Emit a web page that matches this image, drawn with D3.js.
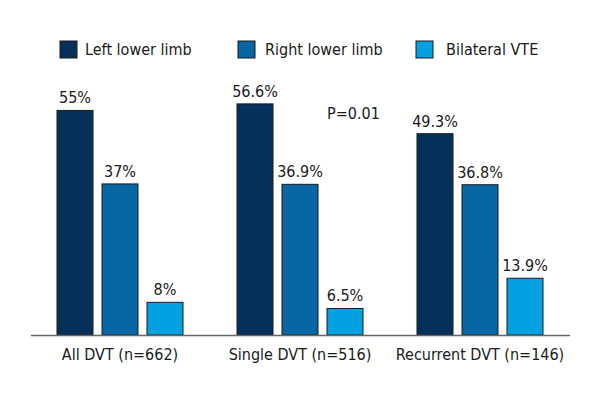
<!DOCTYPE html>
<html>
<head>
<meta charset="utf-8">
<script src="https://cdn.jsdelivr.net/npm/d3@7"></script>
<style>
  html, body { margin: 0; padding: 0; background: #fff; }
  svg { display: block; }
  text { font-family: "Liberation Sans Narrow", "DejaVu Sans Condensed", "Roboto Condensed", sans-serif; font-stretch: condensed; fill: #1a1a1a; }
</style>
</head>
<body>
<div id="chart"></div>
<script>
const categories = ["All DVT (n=662)", "Single DVT (n=516)", "Recurrent DVT (n=146)"];
const seriesNames = ["Left lower limb", "Right lower limb", "Bilateral VTE"];
const leftLowerLimb = [55, 56.6, 49.3];
const rightLowerLimb = [37, 36.9, 36.8];
const bilateralVTE = [8, 6.5, 13.9];
const valueLabels = [["55%", "56.6%", "49.3%"], ["37%", "36.9%", "36.8%"], ["8%", "6.5%", "13.9%"]];
const colors = ["#05305a", "#0767a4", "#04a1e2"];
const pValue = "P=0.01";

const seriesValues = [leftLowerLimb, rightLowerLimb, bilateralVTE];
const W = 600, H = 400;
const svg = d3.select("#chart").append("svg").attr("width", W).attr("height", H);

const x0 = d3.scaleBand().domain(categories).range([30, 570]).paddingInner(0.3).paddingOuter(0.15);
const x1 = d3.scaleBand().domain(seriesNames).range([0, x0.bandwidth()]).paddingInner(0.2);
const y = d3.scaleLinear().domain([0, 60]).range([335, 90]);

const rows = [];
categories.forEach((c, ci) => {
  seriesNames.forEach((s, si) => {
    rows.push({ c, s, si, v: seriesValues[si][ci], label: valueLabels[si][ci] });
  });
});

svg.append("g").selectAll("rect").data(rows).join("rect")
  .attr("x", d => x0(d.c) + x1(d.s))
  .attr("y", d => y(d.v))
  .attr("width", x1.bandwidth())
  .attr("height", d => y(0) - y(d.v))
  .attr("fill", d => colors[d.si])
  .attr("stroke", "#1a1a1a")
  .attr("stroke-width", 1);

svg.append("g").selectAll("text").data(rows).join("text")
  .attr("x", d => x0(d.c) + x1(d.s) + x1.bandwidth() / 2)
  .attr("y", d => y(d.v) - 7)
  .attr("text-anchor", "middle")
  .attr("font-size", 16)
  .text(d => d.label);

// axis
const axis = svg.append("g").attr("transform", `translate(0,${y(0)})`)
  .call(d3.axisBottom(x0).tickSize(0).tickPadding(14));
axis.select(".domain").attr("stroke", "#666").attr("stroke-width", 1.5).attr("d", "M31,0.5H570");
axis.selectAll("text").attr("font-size", 16).attr("fill", "#1a1a1a");

// P value
svg.append("text").attr("x", 327).attr("y", 119).attr("font-size", 16).text(pValue);

// legend
const legendX = [60, 238, 416];
const leg = svg.append("g").selectAll("g").data(seriesNames).join("g")
  .attr("transform", (d, i) => `translate(${legendX[i]},41)`);
leg.append("rect").attr("width", 17).attr("height", 17)
  .attr("fill", (d, i) => colors[i]).attr("stroke", "#1a1a1a").attr("stroke-width", 1);
leg.append("text").attr("x", (d, i) => [25, 27, 30][i]).attr("y", 14).attr("font-size", 16).text(d => d);
</script>
</body>
</html>
